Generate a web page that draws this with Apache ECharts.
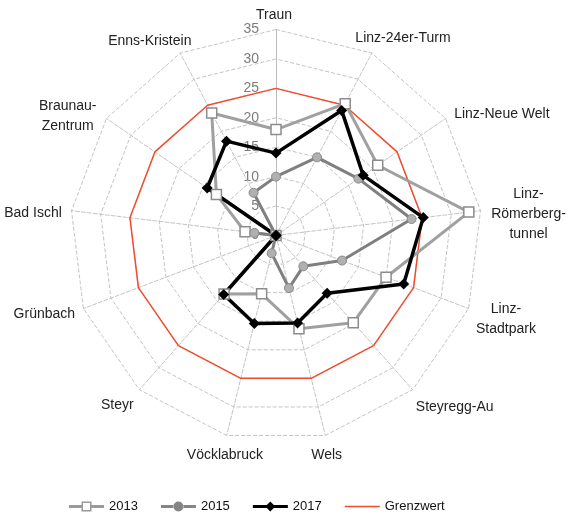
<!DOCTYPE html>
<html>
<head>
<meta charset="utf-8">
<script src="https://cdn.jsdelivr.net/npm/echarts@6/dist/echarts.min.js"></script>
<style>
html, body { margin: 0; padding: 0; background: #fff; }
#chart { width: 570px; height: 517px; }
</style>
</head>
<body>
<div id="chart"></div>
<script>
// Messstationen, im Uhrzeigersinn ab oben
const stations = ['Traun', 'Linz-24er-Turm', 'Linz-Neue Welt', 'Linz-\nRömerberg-\ntunnel', 'Linz-\nStadtpark',
	'Steyregg-Au', 'Wels', 'Vöcklabruck', 'Steyr', 'Grünbach', 'Bad Ischl', 'Braunau-\nZentrum', 'Enns-Kristein'];
const values2013 = [18, 25.3, 21, 33, 20, 19.8, 16.3, 10.2, 13.3, 0, 5.3, 12.3, 23.5];
const values2015 = [10, 15, 17, 23.2, 12, 7, 9.2, 3.1, 0, 0, 3.7, 0, 8.2];
const values2017 = [14, 24, 18, 25.2, 23.2, 13.1, 15.3, 15.4, 13.4, 0, 0, 14.2, 18.1];
const grenzwert = [25, 25, 25, 25, 25, 25, 25, 25, 25, 25, 25, 25, 25];
const tickLabels = ['0', '5', '10', '15', '20', '25', '30', '35'];
const axisMax = 35;

const FONT = '"Liberation Sans", Arial, sans-serif';
const CX = 276, CY = 235.5, R = 206;
const n = stations.length;
// kleine Korrekturen der Beschriftungslage [dx, dy]
const labelNudge = [[-2, 4], [4, 1], [8, 6], [0, 8], [-1, 1], [9, 4], [-5, 2], [10, 2], [-4, 2], [0, -1], [1, 5], [-6, 14], [-6, 4]];

// ECharts zeichnet die Indikatoren gegen den Uhrzeigersinn -> Reihenfolge umdrehen
const order = [0];
for (let i = n - 1; i > 0; i--) order.push(i);
const reorder = arr => order.map(i => arr[i]);

// Beschriftung der Stationen (zentriert wie im Original)
const ctx = document.createElement('canvas').getContext('2d');
ctx.font = '14px ' + FONT;
const nameLabels = stations.map((name, i) => {
	const a = i * 2 * Math.PI / n;
	const lines = name.split('\n');
	const w = Math.max(...lines.map(l => ctx.measureText(l).width));
	const h = 14 + (lines.length - 1) * 20;
	const r = R + 11;
	return {
		type: 'text',
		x: CX + r * Math.sin(a) + w / 2 * Math.sin(a) + labelNudge[i][0],
		y: CY - r * Math.cos(a) - h / 2 * Math.cos(a) + labelNudge[i][1],
		style: { text: name, font: '14px ' + FONT, fill: '#222', align: 'center', verticalAlign: 'middle', lineHeight: 20 },
	};
});

// Skalenwerte an der senkrechten Achse
const tickTexts = tickLabels.map(t => ({
	type: 'text',
	x: CX - 17,
	y: CY - R * Number(t) / axisMax,
	style: { text: t, font: '14px ' + FONT, fill: '#7c7c7c', align: 'right', verticalAlign: 'middle' },
}));

// Legendensymbole: Linie mit Marker
const ICON_2013 = 'path://M0,3.5L12.5,3.5L12.5,0L22.5,0L22.5,3.5L35,3.5L35,6.5L22.5,6.5L22.5,10L12.5,10L12.5,6.5L0,6.5Z M14,1.5L14,8.5L21,8.5L21,1.5Z';
const ICON_2015 = 'path://M0,3.5L13,3.5L13,6.5L0,6.5Z M22,3.5L35,3.5L35,6.5L22,6.5Z M12.5,5A5,5,0,1,0,22.5,5A5,5,0,1,0,12.5,5Z';
const ICON_2017 = 'path://M0,3.5L15,3.5L15,6.5L0,6.5Z M20,3.5L35,3.5L35,6.5L20,6.5Z M12.5,5L17.5,0L22.5,5L17.5,10Z';
const ICON_GW = 'path://M0,0M35,10M0,4.25L35,4.25L35,5.75L0,5.75Z';

const chart = echarts.init(document.getElementById('chart'));

// Indikatoren; die senkrechte Achse (Traun) ist im Original durchgezogen
const indicators = reorder(stations).map((s, i) => {
	const ind = { name: s, min: 0, max: axisMax };
	if (i === 0) ind.axisLine = { lineStyle: { type: 'solid', color: '#bdbdbd' } };
	return ind;
});

const option = {
	animation: false,
	backgroundColor: '#fff',
	legend: {
		left: 64,
		top: 495,
		itemWidth: 35,
		itemHeight: 10,
		itemGap: 23,
		textStyle: { fontSize: 13, color: '#111', fontFamily: FONT },
		data: [
			{ name: '2013', icon: ICON_2013, itemStyle: { color: '#9a9a9a', borderWidth: 0 } },
			{ name: '2015', icon: ICON_2015, itemStyle: { color: '#858585', borderWidth: 0 } },
			{ name: '2017', icon: ICON_2017, itemStyle: { color: '#000', borderWidth: 0 } },
			{ name: 'Grenzwert', icon: ICON_GW, itemStyle: { color: '#f24b2c', borderWidth: 0 } },
		],
	},
	radar: {
		center: [CX, CY],
		radius: R,
		startAngle: 90,
		shape: 'polygon',
		splitNumber: 7,
		indicator: indicators,
		axisName: { show: false },
		axisLine: { lineStyle: { color: '#c4c4c4', type: 'dashed', width: 1 } },
		splitLine: { lineStyle: { color: '#c4c4c4', type: 'dashed', width: 1 } },
		splitArea: { show: false },
	},
	graphic: nameLabels.concat(tickTexts),
	series: [
		{
			type: 'radar',
			emphasis: { disabled: true },
			data: [
				{
					name: 'Grenzwert',
					value: reorder(grenzwert),
					symbol: 'none',
					lineStyle: { color: '#f24b2c', width: 1.5 },
					itemStyle: { color: '#f24b2c' },
				},
				{
					name: '2013',
					value: reorder(values2013),
					symbol: 'rect',
					symbolSize: 10,
					lineStyle: { color: '#a0a0a0', width: 3 },
					itemStyle: { color: '#fff', borderColor: '#8c8c8c', borderWidth: 1.5 },
				},
				{
					name: '2015',
					value: reorder(values2015),
					symbol: 'circle',
					symbolSize: 9,
					lineStyle: { color: '#7f7f7f', width: 3 },
					itemStyle: { color: '#b0b0b0', borderColor: '#8a8a8a', borderWidth: 1 },
				},
				{
					name: '2017',
					value: reorder(values2017),
					symbol: 'diamond',
					symbolSize: 11,
					lineStyle: { color: '#000', width: 3.5 },
					itemStyle: { color: '#000' },
				},
			],
		},
	],
};

chart.setOption(option);
</script>
</body>
</html>
